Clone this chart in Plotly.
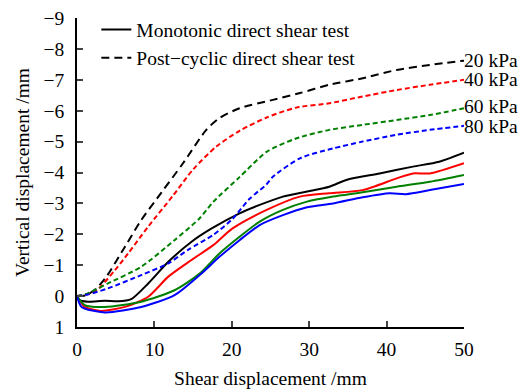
import plotly.graph_objects as go

# ---------------- data ----------------
pressures = ["20 kPa", "40 kPa", "60 kPa", "80 kPa"]
colors = ["#000000", "#ff0000", "#008000", "#0000ff"]

# Post-cyclic direct shear test (dashed)
pc20_x = [0, 1.2, 2.5, 3.8, 6.2, 8.3, 10.9, 13.7, 16.7, 18.4, 21, 25.3, 28.8, 32.6, 36.9, 41.3, 45.6, 50]
pc20_y = [0, -0.03, -0.25, -0.63, -1.6, -2.46, -3.35, -4.3, -5.38, -5.76, -6.08, -6.35, -6.57, -6.84, -7.05, -7.32, -7.48, -7.62]
pc40_x = [0, 2.3, 4.9, 6.6, 9.2, 12.4, 15, 18, 21, 24.5, 28.3, 32.6, 36.9, 41.3, 45.6, 50]
pc40_y = [0, -0.14, -0.84, -1.38, -2.25, -3.25, -4.1, -4.84, -5.35, -5.78, -6.1, -6.24, -6.46, -6.67, -6.84, -7.0]
pc60_x = [0, 1.4, 4, 8.3, 12.6, 15.85, 17.6, 21, 24.5, 28.3, 32.6, 36.9, 41.3, 45.6, 50]
pc60_y = [0, -0.09, -0.41, -0.95, -1.81, -2.52, -3.05, -3.85, -4.67, -5.1, -5.38, -5.54, -5.7, -5.86, -6.08]
pc80_x = [0, 1.4, 4, 8.3, 11.8, 14.3, 17.6, 20.1, 22.3, 24.5, 25.3, 28.8, 33.1, 36.9, 41.3, 45.6, 50]
pc80_y = [0, -0.05, -0.25, -0.68, -1.06, -1.49, -1.98, -2.5, -3.15, -3.62, -3.86, -4.46, -4.78, -5.0, -5.22, -5.38, -5.51]

# Monotonic direct shear test (solid)
mo20_x = [0, 0.3, 1.4, 3.6, 5.3, 7, 9.2, 11.8, 14.8, 17.4, 21, 23.6, 26.6, 29.6, 32.6, 34.8, 39.1, 43.4, 46.8, 50]
mo20_y = [0, 0.13, 0.18, 0.15, 0.17, 0.1, -0.41, -1.11, -1.76, -2.19, -2.68, -2.95, -3.22, -3.38, -3.54, -3.76, -3.97, -4.19, -4.35, -4.64]
mo40_x = [0, 1, 3.1, 6.2, 9.2, 11.8, 14.8, 17.6, 20.1, 24.5, 28.8, 32.6, 36.9, 41.3, 43.4, 45.6, 50]
mo40_y = [0, 0.35, 0.48, 0.35, 0.02, -0.63, -1.17, -1.65, -2.19, -2.79, -3.22, -3.33, -3.43, -3.81, -3.97, -3.97, -4.3]
mo60_x = [0, 1, 3.6, 8.3, 12.6, 15.85, 18.4, 21, 23.6, 26.6, 29.6, 33.1, 36.9, 41.3, 45.6, 50]
mo60_y = [0, 0.29, 0.35, 0.18, -0.19, -0.73, -1.38, -1.92, -2.41, -2.79, -3.05, -3.22, -3.36, -3.54, -3.7, -3.92]
mo80_x = [0, 0.6, 3.6, 8.3, 12.6, 15.85, 18.4, 21, 23.6, 26.6, 29.6, 33.1, 36.9, 40.4, 42.5, 45.6, 50]
mo80_y = [0, 0.35, 0.53, 0.35, -0.03, -0.68, -1.27, -1.81, -2.3, -2.62, -2.87, -3.0, -3.2, -3.33, -3.3, -3.43, -3.63]

y_ticks = [-9, -8, -7, -6, -5, -4, -3, -2, -1, 0, 1]
x_ticks = [0, 10, 20, 30, 40, 50]
label_y = [-7.64, -7.0, -6.15, -5.48]

FONT = "Liberation Serif, Times New Roman, DejaVu Serif, serif"
FS = 19.5

fig = go.Figure()

mono = [(mo20_x, mo20_y), (mo40_x, mo40_y), (mo60_x, mo60_y), (mo80_x, mo80_y)]
post = [(pc20_x, pc20_y), (pc40_x, pc40_y), (pc60_x, pc60_y), (pc80_x, pc80_y)]

for (xs, ys), c in zip(mono, colors):
    fig.add_trace(go.Scatter(x=xs, y=ys, mode="lines", showlegend=False,
                             line=dict(color=c, width=2, shape="spline", smoothing=0.7)))
for i, ((xs, ys), c) in enumerate(zip(post, colors)):
    dash = "8px,5px" if i == 0 else "5px,3px"
    fig.add_trace(go.Scatter(x=xs, y=ys, mode="lines", showlegend=False,
                             line=dict(color=c, width=2, dash=dash, shape="spline", smoothing=0.7)))

# legend entries
fig.add_trace(go.Scatter(x=[None], y=[None], mode="lines", name="Monotonic direct shear test",
                         line=dict(color="black", width=2)))
fig.add_trace(go.Scatter(x=[None], y=[None], mode="lines", name="Post\u2212cyclic direct shear test",
                         line=dict(color="black", width=2, dash="8px,5px")))

for lab, yy in zip(pressures, label_y):
    fig.add_annotation(x=50, y=yy, text=lab, showarrow=False, xanchor="left", yanchor="middle",
                       xshift=-1, borderpad=0, font=dict(family=FONT, size=FS, color="black"))

fig.update_layout(
    width=528, height=390,
    margin=dict(l=77, r=64, t=18, b=63, autoexpand=False),
    paper_bgcolor="white", plot_bgcolor="white",
    font=dict(family=FONT, size=FS, color="black"),
    legend=dict(x=0.05, y=1.025, xanchor="left", yanchor="top", bgcolor="rgba(0,0,0,0)",
                font=dict(family=FONT, size=FS), tracegroupgap=0, itemwidth=30),
)
fig.update_xaxes(range=[0, 50], tickvals=x_ticks, ticks="inside", ticklen=6, tickwidth=1.5,
                 showline=True, linecolor="black", linewidth=1.5, showgrid=False, zeroline=False,
                 ticklabelstandoff=4, automargin=False,
                 title=dict(text="Shear displacement /mm", standoff=12, font=dict(family=FONT, size=FS)),
                 tickfont=dict(family=FONT, size=FS))
fig.update_yaxes(range=[1, -9], tickvals=y_ticks, ticks="inside", ticklen=6, tickwidth=1.5,
                 showline=True, linecolor="black", linewidth=1.5, showgrid=False, zeroline=False,
                 ticklabelstandoff=7, automargin=False,
                 title=dict(text="Vertical displacement /mm", standoff=9, font=dict(family=FONT, size=FS)),
                 tickfont=dict(family=FONT, size=FS))

fig.write_html("out.html")
